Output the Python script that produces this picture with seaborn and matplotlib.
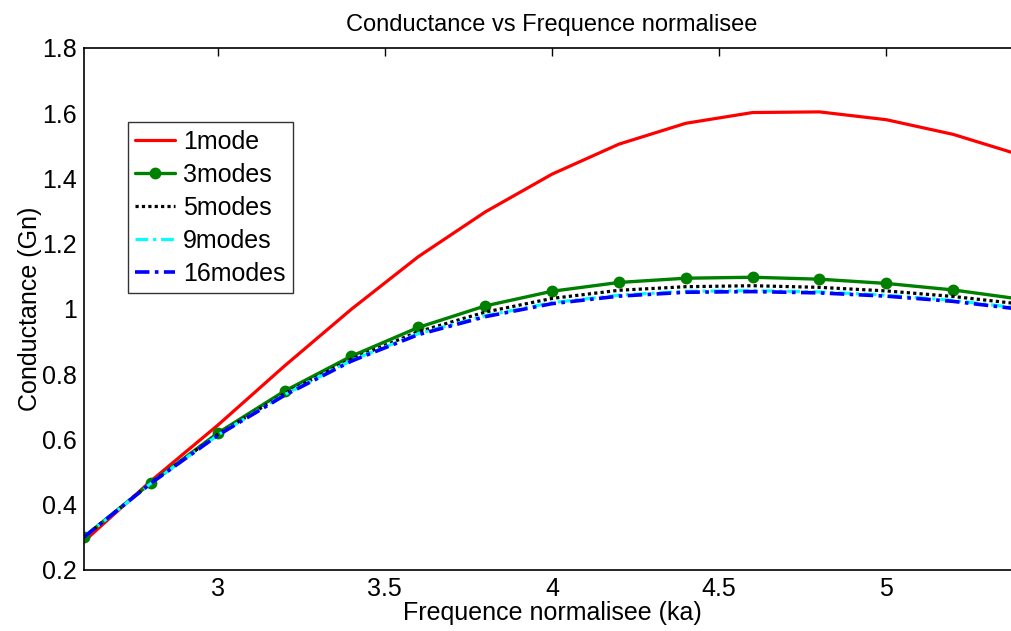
import pandas as pd
import seaborn as sns
import matplotlib
matplotlib.use("Agg")
import matplotlib.pyplot as plt

# Frequence normalisee (ka)
ka = [2.6, 2.8, 3.0, 3.2, 3.4, 3.6, 3.8, 4.0, 4.2, 4.4, 4.6, 4.8, 5.0, 5.2, 5.4]

# Conductance (Gn)
g_1mode = [0.287, 0.472, 0.643, 0.825, 0.999, 1.160, 1.297, 1.413, 1.505, 1.569,
           1.602, 1.604, 1.580, 1.535, 1.472]
g_3modes = [0.301, 0.466, 0.619, 0.748, 0.855, 0.943, 1.009, 1.054, 1.081, 1.094,
            1.097, 1.091, 1.078, 1.058, 1.030]
g_5modes = [0.300, 0.466, 0.615, 0.740, 0.846, 0.930, 0.990, 1.032, 1.057, 1.068,
            1.071, 1.066, 1.055, 1.038, 1.015]
g_9modes = [0.300, 0.465, 0.613, 0.737, 0.842, 0.924, 0.979, 1.019, 1.042, 1.054,
            1.056, 1.052, 1.042, 1.026, 1.002]
g_16modes = [0.300, 0.465, 0.612, 0.735, 0.840, 0.921, 0.976, 1.016, 1.039, 1.051,
             1.053, 1.049, 1.039, 1.023, 0.999]

labels = ["1mode", "3modes", "5modes", "9modes", "16modes"]

sns.set_style("white")
plt.rcParams["font.family"] = ["Liberation Sans", "DejaVu Sans"]
plt.rcParams["text.color"] = "black"
plt.rcParams["axes.labelcolor"] = "black"

fig = plt.figure(figsize=(10.11, 6.31), dpi=100)
ax = fig.add_axes([0.083, 0.097, 0.926, 0.827])

styles = [
    dict(color="#ff0000", linestyle="-", linewidth=2.3),
    dict(color="#008000", linestyle="-", linewidth=2.4, marker="o", markersize=7,
         markeredgecolor="#008000", markeredgewidth=1.5),
    dict(color="black", linestyle=(0, (1, 1)), linewidth=2.3),
    dict(color="#00ffff", linestyle=(0, (4, 1.5, 1, 1.5)), linewidth=2.3),
    dict(color="#0000ff", linestyle=(0, (4, 1.5, 1, 1.5)), linewidth=2.6),
]
series = [g_1mode, g_3modes, g_5modes, g_9modes, g_16modes]

for lab, vals, st in zip(labels, series, styles):
    df = pd.DataFrame({"ka": ka, "G": vals})
    sns.lineplot(data=df, x="ka", y="G", ax=ax, label=lab, **st)

ax.set_xlim(2.6, 5.4)
ax.set_ylim(0.2, 1.8)
ax.set_xticks([3, 3.5, 4, 4.5, 5])
ax.set_xticklabels(["3", "3.5", "4", "4.5", "5"])
ax.set_yticks([0.2, 0.4, 0.6, 0.8, 1.0, 1.2, 1.4, 1.6, 1.8])
ax.set_yticklabels(["0.2", "0.4", "0.6", "0.8", "1", "1.2", "1.4", "1.6", "1.8"])
ax.tick_params(direction="in", length=6, width=1, labelsize=18, top=True, right=True,
               color="black", labelcolor="black", pad=5)
for sp in ax.spines.values():
    sp.set_color("black")
    sp.set_linewidth(1.2)

ax.set_xlabel("Frequence normalisee (ka)", fontsize=18, labelpad=0, color="black")
ax.set_ylabel("Conductance (Gn)", fontsize=18, labelpad=0, color="black")
ax.set_title("Conductance vs Frequence normalisee", fontsize=17, pad=12, color="black")

leg = ax.legend(loc="upper left", bbox_to_anchor=(0.047, 0.858), fontsize=18,
                frameon=True, fancybox=False, edgecolor="black", handlelength=1.6,
                borderpad=0.3, labelspacing=0.36, handletextpad=0.3, borderaxespad=0)
leg.get_frame().set_linewidth(1.0)
for t in leg.get_texts():
    t.set_color("black")

fig.savefig("out.png", dpi=100)
